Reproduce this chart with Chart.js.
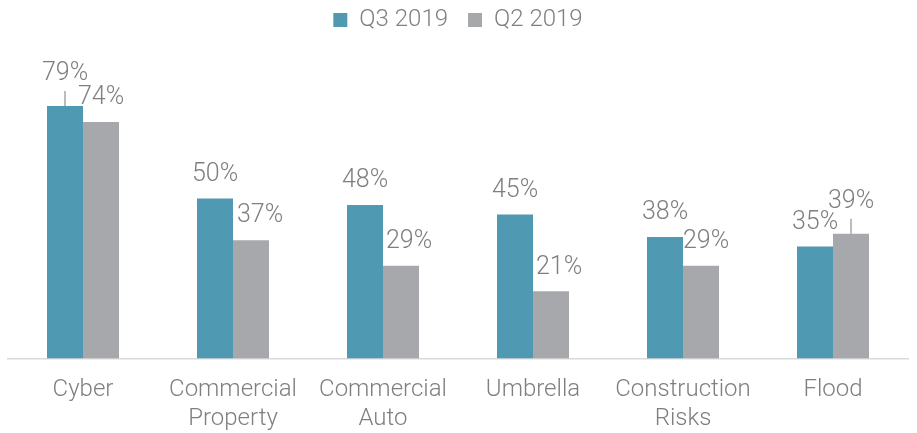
<!DOCTYPE html>
<html>
<head>
<meta charset="utf-8">
<script src="https://cdn.jsdelivr.net/npm/chart.js@4.4.1/dist/chart.umd.min.js"></script>
<style>
  body { margin: 0; background: #fff; }
  #wrap { width: 917px; height: 433px; }
</style>
</head>
<body>
<div id="wrap"><canvas id="chart"></canvas></div>
<script>
// Chart data
const categories = [["Cyber"], ["Commercial", "Property"], ["Commercial", "Auto"], ["Umbrella"], ["Construction", "Risks"], ["Flood"]];
const q3Values = [79, 50, 48, 45, 38, 35];
const q2Values = [74, 37, 29, 21, 29, 39];
const seriesNames = ["Q3 2019", "Q2 2019"];

const textColor = "#7f7f7f";
const fontFamily = "Roboto, 'Open Sans', sans-serif";

// labels that sit higher with a small leader line (dataset-index)
const leaderLabels = ["0-0", "1-5"];
// small sideways nudges of some labels, in px
const labelNudge = { "1-1": 9, "1-2": 8, "1-3": 8, "1-4": 5 };

// Draw the value labels above each bar
const valueLabels = {
    id: "valueLabels",
    afterDatasetsDraw(chart) {
        const ctx = chart.ctx;
        ctx.save();
        ctx.font = "300 25px " + fontFamily;
        ctx.fillStyle = textColor;
        ctx.strokeStyle = "#a6a6a6";
        ctx.lineWidth = 1.5;
        ctx.textAlign = "center";
        ctx.textBaseline = "middle";
        chart.data.datasets.forEach((ds, di) => {
            chart.getDatasetMeta(di).data.forEach((bar, i) => {
                const key = di + "-" + i;
                let offset = 24;
                if (leaderLabels.includes(key)) {
                    offset = 32;
                    ctx.beginPath();
                    ctx.moveTo(bar.x, bar.y);
                    ctx.lineTo(bar.x, bar.y - 15);
                    ctx.stroke();
                }
                ctx.fillText(ds.data[i] + "%", bar.x + (labelNudge[key] || 0), bar.y - offset);
            });
        });
        ctx.restore();
    }
};

const ctx = document.getElementById("chart").getContext("2d");
new Chart(ctx, {
    type: "bar",
    data: {
        labels: categories,
        datasets: [
            { label: seriesNames[0], data: q3Values, backgroundColor: "#5099b2" },
            { label: seriesNames[1], data: q2Values, backgroundColor: "#a7a8ac" }
        ]
    },
    options: {
        responsive: true,
        maintainAspectRatio: false,
        animation: false,
        datasets: {
            bar: { categoryPercentage: 0.48, barPercentage: 1.0 }
        },
        layout: { padding: { left: 8, right: 9, top: -12, bottom: -9 } },
        plugins: {
            legend: {
                position: "top",
                labels: {
                    boxWidth: 14,
                    boxHeight: 14,
                    color: textColor,
                    padding: 20,
                    font: { family: fontFamily, size: 24, weight: "300" }
                }
            },
            tooltip: { enabled: false }
        },
        scales: {
            x: {
                grid: { display: false },
                border: { display: true, color: "#d9d9d9", width: 1.5 },
                ticks: {
                    color: textColor,
                    padding: 9,
                    font: { family: fontFamily, size: 24, weight: "300", lineHeight: 1.2 }
                }
            },
            y: {
                display: false,
                min: 0,
                max: 99
            }
        }
    },
    plugins: [valueLabels]
});
</script>
</body>
</html>
